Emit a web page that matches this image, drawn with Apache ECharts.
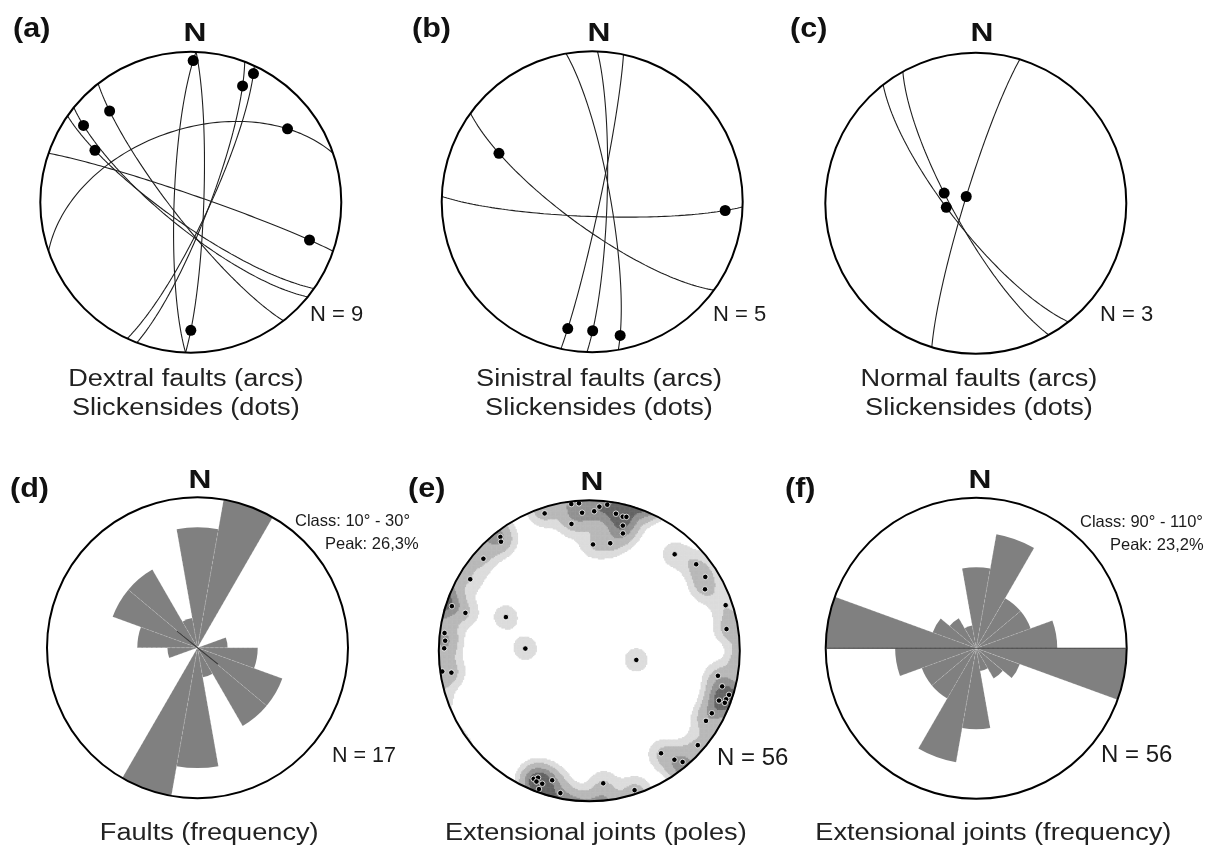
<!DOCTYPE html>
<html><head><meta charset="utf-8">
<script src="https://cdn.jsdelivr.net/npm/echarts@6/dist/echarts.min.js"></script>
<style>html,body{margin:0;padding:0;background:#fff}#c{width:1215px;height:846px}</style>
</head><body><div id="c"></div>
<script>
// ---------------- DATA ----------------
// fault planes: [dip direction (deg), dip (deg), slickenside pitch measured in the plane from strike (deg)]
const faultsDextral = [
  [272, 81, 173.4], [92, 83, 163.9], [111, 80, 16.8], [115, 80, 5.6], [232, 80, 159.7],
  [219, 76, 166.2], [215, 78, 150.9], [19, 86, 161.6], [341, 50, 152.9]
];
const faultsSinistral = [
  [80, 80, 169.7], [92, 82, 164.5], [102, 86, 164.7], [216, 76, 148.1], [182, 82, 12.6]
];
const faultsNormal = [
  [287, 84, 92], [232, 76, 98], [241, 77.5, 103]
];
// poles to extensional joints: [trend, plunge]
const jointPoles = [
  [353,2],[356,2],[357,9],[2,8],[4,4.5],[7,2.5],[11,8],[14,9],[15.5,8.5],[15,15],[16,20],[11,28],[2,30],[352,16],[342,4.5],
  [322,4.5],[321,7.5],[311,7.5],[301,8.5],[288,4.5],[287,15],[277,3.5],[274,4.5],[271,4],[262,1.5],[261,8],
  [292,40],[272,55],[101,64],
  [41.5,15.5],[51,9.5],[57.5,9.5],[62,14],[71.5,5],[81,8.5],
  [101,14],[105,9.5],[107.5,3],[109.5,4],[111,8.5],[111,4],[117,9.5],[121,10.5],[131,5],[140,4],[142,9],[145,18],
  [174,12.5],[162,3],[191.5,4],[196,11.5],[203.5,8],[202,10],[202,7],[199.5,7],[200,2.5]
];
// rose diagrams: 20-degree classes centred on these azimuths (%)
const roseBins = ['0','20','40','60','80','100','120','140','160','180','200','220','240','260','280','300','320','340'];
const faultRose = [21.05,26.32,0,0,5.26,10.53,15.79,15.79,5.26, 21.05,26.32,0,0,5.26,10.53,15.79,15.79,5.26];
const jointRose = [12.5,17.86,8.93,8.93,12.5,23.21,7.14,5.36,3.57, 12.5,17.86,8.93,8.93,12.5,23.21,7.14,5.36,3.57];
const faultMean = {dir: 129, len: 4.6};
const jointMean = {dir: 90, len: 23.21};
const countLabels = ['N = 9', 'N = 5', 'N = 3', 'N = 17', 'N = 56', 'N = 56'];
const classLabels = {d: ['Class: 10° - 30°', 'Peak: 26,3%'], f: ['Class: 90° - 110°', 'Peak: 23,2%']};
// density contour levels for the pole plot
const contourLevels = [0.6, 1.25, 2.4, 3.6];
const contourColors = ['#dcdcdc', '#b8b8b8', '#929292', '#646464'];

// ---------------- LAYOUT ----------------
const R = 150.5;
const PAN = {
  a: {cx: 190.8, cy: 202.2}, b: {cx: 592.2, cy: 201.7}, c: {cx: 975.8, cy: 203.3},
  d: {cx: 197.5, cy: 647.7}, e: {cx: 589.3, cy: 650.8}, f: {cx: 976.2, cy: 648.3}
};
const FONT = '"Liberation Sans", Arial, Helvetica, sans-serif';

// ---------------- GEOMETRY (equal-area, lower hemisphere) ----------------
const D2R = Math.PI / 180;
function proj(t, p) { const c = (90 - p) * D2R; const r = Math.SQRT2 * Math.sin(c / 2); return [r * Math.sin(t * D2R), r * Math.cos(t * D2R)]; }
function vec(t, p) { t *= D2R; p *= D2R; return [Math.cos(p) * Math.cos(t), Math.cos(p) * Math.sin(t), Math.sin(p)]; }
function toTP(v) { let [n, e, d] = v; if (d < -1e-9) { n = -n; e = -e; d = -d; } const p = Math.asin(Math.max(0, Math.min(1, d))) / D2R; let t = Math.atan2(e, n) / D2R; if (t < 0) t += 360; return [t, p]; }
function planeLine(dd, dip, phi) {
  const s = vec(dd - 90, 0), dv = vec(dd, dip), c = Math.cos(phi * D2R), sn = Math.sin(phi * D2R);
  return toTP([c * s[0] + sn * dv[0], c * s[1] + sn * dv[1], c * s[2] + sn * dv[2]]);
}
function greatCircle(dd, dip) { const pts = []; for (let phi = 0; phi <= 180; phi += 1) { const tp = planeLine(dd, dip, phi); pts.push(proj(tp[0], tp[1])); } return pts; }

// ---------------- OPTION ----------------
const grid = [], xAxis = [], yAxis = [], polar = [], angleAxis = [], radiusAxis = [], series = [];
function addValueGrid(P) {
  const i = grid.length;
  grid.push({left: P.cx - R, top: P.cy - R, width: 2 * R, height: 2 * R, outerBoundsMode: 'none', containLabel: false});
  xAxis.push({gridIndex: i, type: 'value', min: -1, max: 1, show: false});
  yAxis.push({gridIndex: i, type: 'value', min: -1, max: 1, show: false});
  return i;
}
function addCircle(P) {
  const i = polar.length;
  polar.push({center: [P.cx, P.cy], radius: R});
  angleAxis.push({polarIndex: i, type: 'value', min: 0, max: 360, startAngle: 90, z: 10,
    axisLine: {show: true, lineStyle: {color: '#000', width: 2}}, axisTick: {show: false}, axisLabel: {show: false}, splitLine: {show: false}});
  radiusAxis.push({polarIndex: i, type: 'value', min: 0, max: 1, show: false});
  return i;
}

[['a', faultsDextral], ['b', faultsSinistral], ['c', faultsNormal]].forEach(([k, faults]) => {
  const P = PAN[k];
  const gi = addValueGrid(P);
  addCircle(P);
  faults.forEach(f => {
    series.push({type: 'line', xAxisIndex: gi, yAxisIndex: gi, data: greatCircle(f[0], f[1]), symbol: 'none',
      lineStyle: {color: '#202020', width: 1.1}, silent: true, z: 2});
  });
  series.push({type: 'scatter', xAxisIndex: gi, yAxisIndex: gi, symbolSize: 11, silent: true, z: 4,
    itemStyle: {color: '#000', opacity: 1},
    data: faults.map(f => { const tp = planeLine(f[0], f[1], f[2]); return proj(tp[0], tp[1]); })});
});

// (e) density of poles (gaussian kernel on the net, wrapped across the primitive)
const gE = addValueGrid(PAN.e);
const NC = 240;
const gH = grid.length;
grid.push({left: PAN.e.cx - R, top: PAN.e.cy - R, width: 2 * R, height: 2 * R, outerBoundsMode: 'none', containLabel: false});
const cats = Array.from({length: NC}, (_, i) => i);
xAxis.push({gridIndex: gH, type: 'category', data: cats, show: false});
yAxis.push({gridIndex: gH, type: 'category', data: cats, show: false});
const SIGN = 11 / R;
const PP = [];
jointPoles.forEach(p => {
  const q = proj(p[0], p[1]); PP.push(q);
  const r = Math.hypot(q[0], q[1]);
  if (r > 0.8) { const k = -(2 - r) / r; PP.push([q[0] * k, q[1] * k]); }
});
const heat = [];
for (let i = 0; i < NC; i++) {
  for (let j = 0; j < NC; j++) {
    const nx = -1 + (i + 0.5) * 2 / NC, ny = -1 + (j + 0.5) * 2 / NC;
    if (Math.hypot(nx, ny) > 1.0) continue;
    let dsum = 0;
    for (const q of PP) {
      const dx = nx - q[0], dy = ny - q[1];
      dsum += Math.exp(-(dx * dx + dy * dy) / (2 * SIGN * SIGN));
    }
    if (dsum >= contourLevels[0]) heat.push([i, j, dsum]);
  }
}
const heatIdx = series.length;
series.push({type: 'heatmap', xAxisIndex: gH, yAxisIndex: gH, data: heat, progressive: 0, silent: true, z: 1});
addCircle(PAN.e);
series.push({type: 'scatter', xAxisIndex: gE, yAxisIndex: gE, symbolSize: 5.5, silent: true, z: 5,
  itemStyle: {color: '#000', borderColor: '#fff', borderWidth: 0.8, opacity: 1},
  data: jointPoles.map(p => proj(p[0], p[1]))});

// rose diagrams
function addRose(P, values, mean) {
  const i = polar.length, mx = Math.max(...values);
  polar.push({center: [P.cx, P.cy], radius: R});
  angleAxis.push({polarIndex: i, type: 'category', data: roseBins, startAngle: 100, clockwise: true, boundaryGap: true, z: 10,
    axisLine: {show: true, lineStyle: {color: '#000', width: 2}}, axisTick: {show: false}, axisLabel: {show: false},
    splitLine: {show: true, lineStyle: {color: 'rgba(255,255,255,0.25)', type: 'dashed', width: 0.8}}});
  radiusAxis.push({polarIndex: i, type: 'value', min: 0, max: mx, show: false});
  series.push({type: 'bar', coordinateSystem: 'polar', polarIndex: i, data: values, barCategoryGap: '0%', silent: true,
    itemStyle: {color: '#808080'}, z: 2});
  const j = polar.length;
  polar.push({center: [P.cx, P.cy], radius: R});
  angleAxis.push({polarIndex: j, type: 'value', min: 0, max: 360, startAngle: 90, clockwise: true, show: false});
  radiusAxis.push({polarIndex: j, type: 'value', min: 0, max: mx, show: false});
  series.push({type: 'line', coordinateSystem: 'polar', polarIndex: j, symbol: 'none', silent: true, z: 12,
    lineStyle: {color: '#3c3c3c', width: 1.1},
    data: [[mean.len, mean.dir], [0, mean.dir], [mean.len, mean.dir + 180]]});
}
addRose(PAN.d, faultRose, faultMean);
addRose(PAN.f, jointRose, jointMean);

// ---------------- TEXT ----------------
const graphic = [];
function txt(text, x, y, size, opt) {
  opt = opt || {};
  graphic.push({type: 'text', x: x, y: y, scaleX: opt.sx || 1, silent: true, z: 100,
    style: {text: text, font: (opt.bold ? 'bold ' : '') + size + 'px ' + FONT, fill: opt.fill || '#1a1a1a',
      textAlign: opt.align || 'left', textVerticalAlign: 'middle'}});
}
[['(a)', 13, 30], ['(b)', 412, 30], ['(c)', 790, 30], ['(d)', 10, 490], ['(e)', 408, 490], ['(f)', 785, 490]]
  .forEach(l => txt(l[0], l[1], l[2], 27, {bold: true, sx: 1.13, fill: '#111'}));
[[195, 34], [599, 34], [982, 34], [200, 481], [592, 483], [980, 481]]
  .forEach(p => txt('N', p[0], p[1], 26, {bold: true, sx: 1.22, align: 'center', fill: '#111'}));
const cntPos = [[310, 315, 22], [713, 315, 22], [1100, 315, 22], [332, 756, 21.5], [717, 758, 24], [1101, 755, 24]];
countLabels.forEach((t, i) => txt(t, cntPos[i][0], cntPos[i][1], cntPos[i][2]));
txt(classLabels.d[0], 295, 521, 16.5); txt(classLabels.d[1], 325, 544, 16.5);
txt(classLabels.f[0], 1080, 522, 16.5); txt(classLabels.f[1], 1110, 545, 16.5);
const CS = 1.155, CF = 23.5;
[['Dextral faults (arcs)', 185.8, 380], ['Slickensides (dots)', 185.8, 409],
 ['Sinistral faults (arcs)', 599, 380], ['Slickensides (dots)', 599, 409],
 ['Normal faults (arcs)', 979, 380], ['Slickensides (dots)', 979, 409],
 ['Faults (frequency)', 209.2, 834], ['Extensional joints (poles)', 595.8, 834], ['Extensional joints (frequency)', 993.3, 834]]
  .forEach(c => txt(c[0], c[1], c[2], CF, {sx: CS, align: 'center', fill: '#222'}));

const pieces = contourLevels.map((lv, k) => k < contourLevels.length - 1
  ? {gte: lv, lt: contourLevels[k + 1], color: contourColors[k]} : {gte: lv, color: contourColors[k]});
const option = {
  backgroundColor: '#fff', animation: false,
  grid, xAxis, yAxis, polar, angleAxis, radiusAxis, series, graphic,
  visualMap: [{type: 'piecewise', show: false, seriesIndex: heatIdx, dimension: 2, pieces: pieces}]
};
const chart = echarts.init(document.getElementById('c'), null, {renderer: 'canvas'});
chart.setOption(option);
</script></body></html>
